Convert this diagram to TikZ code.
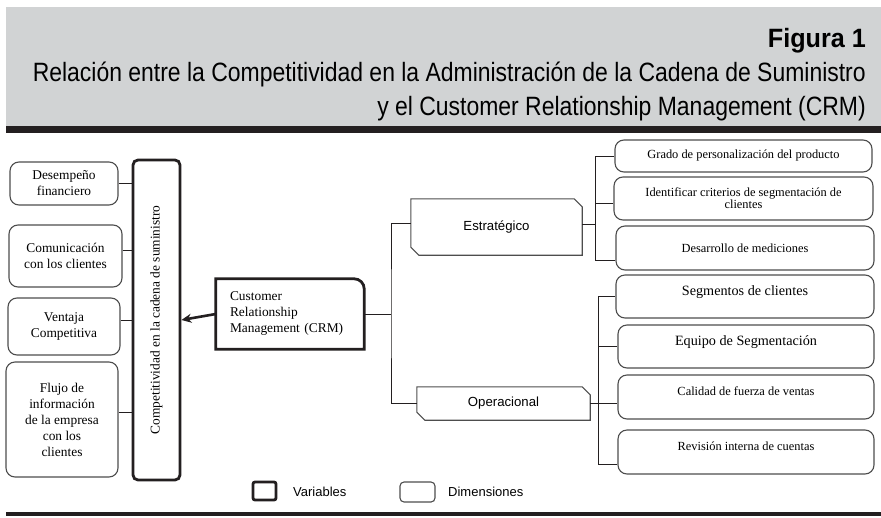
\documentclass[tikz,border=0pt]{standalone}
\usepackage{fontspec}
\setmainfont{Liberation Serif}
\setsansfont{Liberation Sans}
\usepackage{graphicx}
\usetikzlibrary{arrows.meta}

\definecolor{bandgray}{HTML}{D1D3D4}
\definecolor{inkblack}{HTML}{231F20}
\definecolor{boxgray}{HTML}{4D4D4D}

\begin{document}
\begin{tikzpicture}[x=1pt,y=-1pt]
  \tikzset{dimbox/.style = {shape=rectangle,draw=boxgray,line width=1.1pt,rounded corners=9pt,inner sep=2pt,align=center}}
  \tikzset{varbox/.style = {shape=rectangle,draw=inkblack,line width=2.8pt,inner sep=0pt}}
  \tikzset{chambox/.style = {shape=rectangle,inner sep=0pt,font=\sffamily\fontsize{13.2}{16}\selectfont}}
  \tikzset{link/.style = {draw=inkblack,line width=1pt}}
  \tikzset{leftfont/.style = {font=\fontsize{13.4}{16}\selectfont}}
  \tikzset{smallfont/.style = {font=\fontsize{12.4}{12}\selectfont}}
  \tikzset{bigfont/.style = {font=\fontsize{14.2}{16}\selectfont}}
  \tikzset{uptext/.style = {text height=10pt,text depth=13pt}}
  \tikzset{title/.style = {anchor=base east,inner sep=0pt,font=\sffamily\fontsize{26.5}{30}\selectfont}}
  \tikzset{keytext/.style = {anchor=west,inner sep=0pt,font=\sffamily\fontsize{13}{15}\selectfont}}

  \useasboundingbox (0,0) rectangle (881,517);
  \fill[white] (0,0) rectangle (881,517);

  % header band
  \fill[bandgray] (6,7) rectangle (881,126);
  \fill[inkblack] (6,126) rectangle (881,133);
  \fill[inkblack] (6,512) rectangle (881,516);
  \node[title] (figura) at (866,47) {\bfseries\scalebox{0.95}[1]{Figura 1}};
  \node[title] (titulo) at (866,81) {\scalebox{0.866}[1]{Relación entre la Competitividad en la Administración de la Cadena de Suministro}};
  \node[title] (subtitulo) at (866,115) {\scalebox{0.866}[1]{y el Customer Relationship Management (CRM)}};

  % left column
  \node[dimbox,leftfont,minimum width=108pt,minimum height=43pt] (desemp) at (64,183.5) {Desempeño\\financiero};
  \node[dimbox,leftfont,minimum width=113pt,minimum height=62pt] (comun) at (65.5,256) {Comunicación\\con los clientes};
  \node[dimbox,leftfont,minimum width=112pt,minimum height=57pt] (ventaja) at (64,326.5) {Ventaja\\Competitiva};
  \node[dimbox,leftfont,minimum width=112pt,minimum height=115pt] (flujo) at (62,419.5) {Flujo de\\información\\de la empresa\\con los\\clientes};
  \node[varbox,rounded corners=5pt,leftfont,minimum width=47pt,minimum height=320pt] (compet) at (156.5,320) {\rotatebox{90}{Competitividad en la cadena de suministro}};

  \foreach \n/\s in {desemp/0, comun/6, ventaja/6, flujo/7}
    \draw[link] ([yshift=\s pt]\n.east) -- ([yshift=\s pt]\n.east -| compet.west);

  % CRM
  \node[leftfont,minimum width=148pt,minimum height=70pt,text width=120pt,align=left,inner xsep=14pt,inner ysep=0pt] (crm) at (290,314) {Customer\\Relationship\\Management (CRM)};
  \draw[inkblack,line width=2.8pt] (crm.south west) -- (crm.north west) -- ([xshift=-10pt]crm.north east)
    arc[start angle=90,end angle=0,radius=10pt] -- (crm.south east) -- cycle;
  \draw[inkblack,line width=2.6pt,-{Stealth[length=10pt,width=9pt]}] (crm.west) -- (compet.east);

  % dimensions
  \node[chambox,minimum width=171pt,minimum height=56pt] (estr) at (496.5,227) {Estratégico};
  \node[chambox,minimum width=173pt,minimum height=33pt] (oper) at (503.5,403.5) {Operacional};
  \foreach \n in {estr, oper}
    \draw[boxgray,line width=1.1pt] (\n.north west) -- ([xshift=-8pt]\n.north east) -- ([yshift=-8pt]\n.north east)
      -- (\n.south east) -- ([xshift=8pt]\n.south west) -- ([yshift=8pt]\n.south west) -- cycle;

  \coordinate (split) at (391,314);
  \draw[link] (crm.east) -- (split);
  \draw[link] ([yshift=4pt]estr.west) -| (split) |- (oper.west);

  % indicators
  \node[dimbox,smallfont,minimum width=257pt,minimum height=32pt] (grado) at (743.5,156) {Grado de personalización del producto};
  \node[dimbox,smallfont,minimum width=259pt,minimum height=43pt] (criter) at (743.5,198.5) {Identificar criterios de segmentación de\\clientes};
  \node[dimbox,smallfont,minimum width=258pt,minimum height=44pt] (medic) at (745,248) {Desarrollo de mediciones};
  \node[dimbox,bigfont,uptext,minimum width=258pt,minimum height=43pt] (segm) at (745,296.5) {Segmentos de clientes};
  \node[dimbox,bigfont,uptext,minimum width=256pt,minimum height=43pt] (equipo) at (746,346.5) {Equipo de Segmentación};
  \node[dimbox,smallfont,uptext,minimum width=256pt,minimum height=44pt] (calidad) at (746,397) {Calidad de fuerza de ventas};
  \node[dimbox,smallfont,uptext,minimum width=256pt,minimum height=44pt] (revision) at (746,452) {Revisión interna de cuentas};

  \coordinate (ua) at (595,156);
  \coordinate (ub) at (595,260);
  \coordinate (la) at (598,297);
  \coordinate (lb) at (598,464);
  \draw[link] (ua) -- (ub);
  \draw[link] (la) -- (lb);
  \draw[link] ([yshift=3pt]estr.east) -- ([yshift=3pt]estr.east -| ua);
  \draw[link] (oper.east) -- (oper.east -| calidad.west);
  \foreach \n/\s in {grado/0, criter/-5, medic/-12}
    \draw[link] ([yshift=\s pt]\n.west) -- ([yshift=\s pt]\n.west -| ua);
  \foreach \n/\s in {segm/0, equipo/0, revision/-12}
    \draw[link] ([yshift=\s pt]\n.west) -- ([yshift=\s pt]\n.west -| la);

  % legend
  \node[varbox,rounded corners=2pt,minimum width=23pt,minimum height=18pt] (varkey) at (264.5,491) {};
  \node[keytext] (varlbl) at (293,492) {Variables};
  \node[dimbox,rounded corners=4pt,minimum width=35pt,minimum height=20pt] (dimkey) at (417.5,492) {};
  \node[keytext] (dimlbl) at (448,492) {Dimensiones};
\end{tikzpicture}
\end{document}
